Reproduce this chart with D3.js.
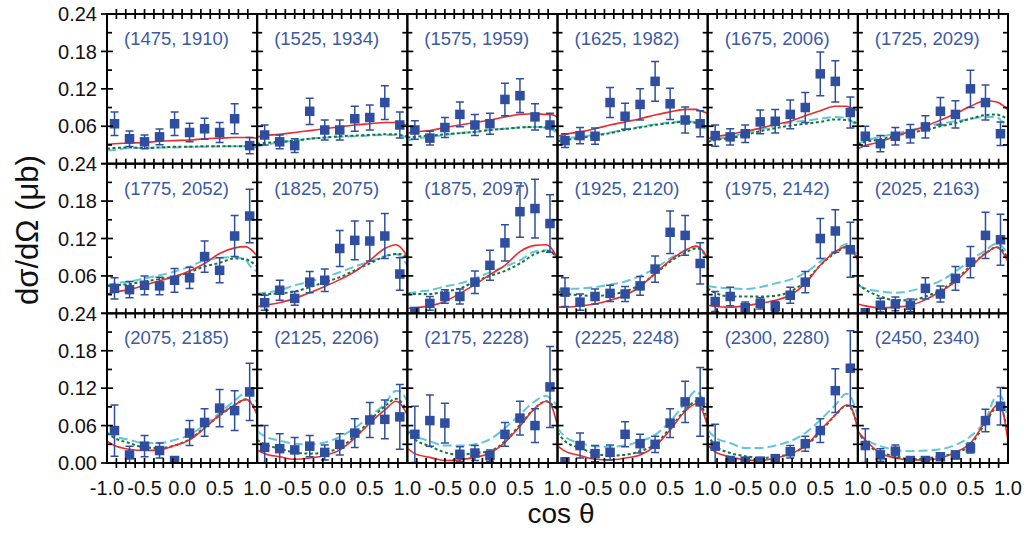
<!DOCTYPE html>
<html><head><meta charset="utf-8">
<script src="https://cdn.jsdelivr.net/npm/d3@7/dist/d3.min.js"></script>
<style>body{margin:0;background:#fff}svg{display:block}</style>
</head><body>
<svg id="c" width="1026" height="536"></svg>
<script>
// ---------- DATA ----------
const panelLabels = ["(1475, 1910)","(1525, 1934)","(1575, 1959)","(1625, 1982)","(1675, 2006)","(1725, 2029)",
  "(1775, 2052)","(1825, 2075)","(1875, 2097)","(1925, 2120)","(1975, 2142)","(2025, 2163)",
  "(2075, 2185)","(2125, 2206)","(2175, 2228)","(2225, 2248)","(2300, 2280)","(2450, 2340)"];

const cosTheta = [-0.9,-0.7,-0.5,-0.3,-0.1,0.1,0.3,0.5,0.7,0.9];

const dsigma = [
  [0.064,0.040,0.035,0.043,0.064,0.050,0.056,0.050,0.072,0.029],
  [0.046,0.035,0.029,0.084,0.054,0.054,0.072,0.074,0.098,0.062],
  [0.054,0.041,0.058,0.079,0.062,0.064,0.103,0.109,0.075,0.062],
  [0.037,0.045,0.044,0.098,0.076,0.095,0.132,0.096,0.070,0.064],
  [0.045,0.043,0.048,0.067,0.068,0.079,0.090,0.144,0.132,0.082],
  [0.044,0.032,0.044,0.048,0.059,0.084,0.079,0.120,0.098,0.048],
  [0.040,0.038,0.045,0.044,0.053,0.057,0.091,0.069,0.124,0.156],
  [0.017,0.037,0.024,0.050,0.053,0.104,0.117,0.116,0.124,0.063],
  [0.003,0.016,0.027,0.027,0.050,0.077,0.113,0.163,0.168,0.144],
  [0.034,0.018,0.027,0.032,0.031,0.044,0.071,0.130,0.125,0.080],
  [0.019,0.027,0.009,0.016,0.011,0.029,0.050,0.120,0.132,0.102],
  [0.001,0.013,0.015,0.013,0.040,0.031,0.056,0.082,0.125,0.118],
  [0.052,0.013,0.027,0.020,0.004,0.048,0.065,0.088,0.084,0.114],
  [0.025,0.023,0.021,0.027,0.017,0.030,0.048,0.069,0.070,0.074],
  [0.046,0.068,0.064,0.014,0.016,0.012,0.046,0.072,0.060,0.122],
  [0.002,0.028,0.015,0.017,0.046,0.031,0.030,0.064,0.098,0.098],
  [0.027,0.004,0.003,0.003,0.007,0.018,0.031,0.052,0.116,0.152],
  [0.028,0.013,0.019,0.004,0.004,0.010,0.013,0.024,0.068,0.091]
];

const dsigmaErr = [
  [0.019,0.0125,0.011,0.0125,0.019,0.015,0.017,0.016,0.024,0.013],
  [0.016,0.011,0.011,0.021,0.016,0.016,0.020,0.020,0.027,0.021],
  [0.015,0.011,0.016,0.020,0.017,0.017,0.026,0.027,0.021,0.019],
  [0.011,0.013,0.013,0.024,0.021,0.025,0.032,0.025,0.021,0.021],
  [0.017,0.013,0.014,0.019,0.019,0.023,0.024,0.035,0.033,0.025],
  [0.016,0.013,0.014,0.015,0.018,0.022,0.022,0.030,0.028,0.019],
  [0.017,0.013,0.015,0.014,0.019,0.017,0.025,0.020,0.033,0.043],
  [0.012,0.016,0.011,0.017,0.018,0.029,0.031,0.032,0.036,0.026],
  [0.006,0.011,0.011,0.012,0.018,0.024,0.029,0.041,0.047,0.046],
  [0.023,0.013,0.012,0.013,0.012,0.015,0.021,0.034,0.032,0.033],
  [0.016,0.015,0.009,0.009,0.008,0.013,0.017,0.032,0.034,0.044],
  [0.005,0.011,0.011,0.010,0.017,0.013,0.019,0.025,0.037,0.041],
  [0.041,0.014,0.017,0.012,0.004,0.020,0.022,0.030,0.032,0.046],
  [0.035,0.024,0.020,0.017,0.012,0.017,0.023,0.028,0.031,0.052],
  [0.045,0.041,0.032,0.012,0.012,0.009,0.019,0.027,0.027,0.065],
  [0.004,0.020,0.013,0.012,0.020,0.015,0.013,0.023,0.033,0.055],
  [0.035,0.004,0.003,0.003,0.004,0.010,0.012,0.019,0.035,0.060],
  [0.027,0.010,0.010,0.003,0.003,0.004,0.006,0.008,0.018,0.030]
];

const curveCos = [-1,-0.9,-0.7,-0.5,-0.3,-0.1,0.1,0.3,0.5,0.7,0.85,0.9,1.0];

const solidRed = [
  [0.031,0.032,0.033,0.034,0.036,0.037,0.038,0.040,0.041,0.042,0.042,0.042,0.041],
  [0.043,0.045,0.047,0.050,0.053,0.056,0.059,0.062,0.064,0.066,0.066,0.065,0.061],
  [0.049,0.051,0.053,0.058,0.062,0.066,0.070,0.075,0.079,0.080,0.079,0.079,0.075],
  [0.044,0.047,0.051,0.056,0.062,0.067,0.072,0.078,0.083,0.087,0.087,0.085,0.081],
  [0.040,0.043,0.047,0.052,0.057,0.063,0.068,0.077,0.085,0.092,0.092,0.090,0.085],
  [0.024,0.029,0.035,0.044,0.052,0.060,0.070,0.080,0.092,0.101,0.099,0.096,0.086],
  [0.031,0.034,0.038,0.045,0.052,0.059,0.068,0.080,0.096,0.105,0.107,0.104,0.092],
  [0.011,0.013,0.017,0.024,0.033,0.043,0.054,0.067,0.085,0.104,0.110,0.107,0.091],
  [0.008,0.009,0.012,0.019,0.032,0.046,0.062,0.077,0.099,0.109,0.110,0.107,0.088],
  [0.010,0.010,0.012,0.015,0.021,0.029,0.043,0.064,0.085,0.101,0.108,0.105,0.088],
  [0.013,0.011,0.010,0.012,0.016,0.021,0.029,0.048,0.077,0.099,0.107,0.104,0.085],
  [0.015,0.012,0.009,0.010,0.013,0.022,0.035,0.051,0.074,0.096,0.106,0.102,0.083],
  [0.035,0.028,0.022,0.020,0.021,0.028,0.037,0.056,0.077,0.093,0.102,0.099,0.077],
  [0.021,0.015,0.010,0.006,0.008,0.012,0.021,0.040,0.064,0.085,0.099,0.096,0.077],
  [0.024,0.015,0.009,0.004,0.005,0.009,0.016,0.033,0.059,0.088,0.099,0.096,0.060],
  [0.028,0.019,0.012,0.006,0.005,0.008,0.013,0.027,0.053,0.083,0.095,0.091,0.059],
  [0.029,0.018,0.010,0.005,0.004,0.008,0.015,0.027,0.053,0.077,0.093,0.091,0.053],
  [0.051,0.037,0.016,0.008,0.005,0.005,0.008,0.017,0.032,0.067,0.092,0.091,0.035]
];

const dottedGreen = [
  [0.024,0.025,0.026,0.025,0.026,0.027,0.027,0.028,0.028,0.028,0.028,0.028,0.027],
  [0.032,0.033,0.035,0.037,0.040,0.042,0.044,0.045,0.046,0.047,0.047,0.046,0.044],
  [0.042,0.043,0.045,0.047,0.049,0.051,0.054,0.056,0.058,0.059,0.058,0.057,0.053],
  [0.036,0.038,0.041,0.045,0.049,0.054,0.058,0.062,0.065,0.067,0.065,0.063,0.059],
  [0.035,0.038,0.041,0.046,0.052,0.057,0.061,0.064,0.067,0.071,0.070,0.069,0.064],
  [0.031,0.035,0.039,0.045,0.050,0.054,0.060,0.065,0.072,0.078,0.079,0.077,0.072],
  [0.044,0.045,0.047,0.051,0.055,0.059,0.066,0.075,0.081,0.088,0.087,0.084,0.075],
  [0.031,0.031,0.032,0.035,0.042,0.050,0.058,0.069,0.080,0.091,0.095,0.095,0.090],
  [0.032,0.031,0.031,0.035,0.040,0.051,0.060,0.068,0.080,0.095,0.100,0.099,0.088],
  [0.035,0.032,0.029,0.028,0.030,0.035,0.046,0.063,0.083,0.097,0.104,0.103,0.088],
  [0.040,0.033,0.027,0.027,0.027,0.028,0.035,0.051,0.077,0.097,0.106,0.104,0.088],
  [0.047,0.038,0.027,0.021,0.021,0.027,0.037,0.053,0.076,0.096,0.106,0.104,0.088],
  [0.048,0.040,0.032,0.025,0.024,0.028,0.038,0.057,0.076,0.093,0.102,0.099,0.083],
  [0.037,0.030,0.023,0.017,0.015,0.017,0.025,0.043,0.068,0.091,0.103,0.100,0.083],
  [0.051,0.038,0.027,0.017,0.013,0.016,0.019,0.035,0.061,0.088,0.099,0.096,0.085],
  [0.049,0.035,0.024,0.015,0.012,0.013,0.019,0.030,0.056,0.085,0.099,0.095,0.067],
  [0.045,0.028,0.016,0.011,0.008,0.010,0.015,0.027,0.049,0.077,0.092,0.089,0.059],
  [0.051,0.033,0.017,0.011,0.006,0.007,0.011,0.016,0.029,0.064,0.088,0.088,0.043]
];

const dashedCyan = [
  [0.021,0.022,0.025,0.025,0.026,0.026,0.027,0.027,0.028,0.028,0.028,0.027,0.026],
  [0.028,0.030,0.034,0.037,0.040,0.042,0.043,0.044,0.045,0.046,0.046,0.045,0.042],
  [0.037,0.040,0.043,0.046,0.049,0.051,0.054,0.056,0.058,0.059,0.058,0.056,0.050],
  [0.040,0.041,0.043,0.046,0.050,0.055,0.059,0.063,0.066,0.068,0.066,0.062,0.055],
  [0.035,0.039,0.043,0.049,0.055,0.061,0.066,0.069,0.072,0.075,0.073,0.070,0.056],
  [0.032,0.037,0.043,0.048,0.054,0.059,0.064,0.068,0.072,0.075,0.075,0.070,0.059],
  [0.045,0.048,0.051,0.056,0.061,0.067,0.075,0.085,0.089,0.090,0.085,0.077,0.067],
  [0.031,0.033,0.037,0.045,0.051,0.058,0.066,0.075,0.083,0.092,0.095,0.092,0.077],
  [0.032,0.034,0.037,0.043,0.048,0.056,0.066,0.075,0.085,0.099,0.101,0.100,0.088],
  [0.038,0.039,0.040,0.042,0.046,0.051,0.060,0.072,0.088,0.101,0.107,0.102,0.088],
  [0.044,0.042,0.040,0.039,0.042,0.048,0.054,0.065,0.083,0.100,0.111,0.107,0.091],
  [0.045,0.040,0.035,0.033,0.036,0.043,0.052,0.067,0.085,0.101,0.112,0.109,0.096],
  [0.049,0.043,0.037,0.032,0.032,0.037,0.045,0.061,0.080,0.100,0.112,0.112,0.096],
  [0.051,0.043,0.036,0.031,0.030,0.033,0.042,0.056,0.075,0.095,0.116,0.115,0.099],
  [0.053,0.044,0.035,0.028,0.028,0.030,0.038,0.056,0.078,0.099,0.108,0.104,0.091],
  [0.056,0.042,0.032,0.027,0.026,0.028,0.035,0.045,0.067,0.096,0.116,0.109,0.091],
  [0.053,0.041,0.032,0.024,0.024,0.028,0.035,0.048,0.069,0.093,0.111,0.107,0.075],
  [0.048,0.038,0.027,0.021,0.019,0.020,0.022,0.029,0.043,0.069,0.107,0.107,0.069]
];

const yTickValues = [0.24, 0.18, 0.12, 0.06];
const yTickLabels = ["0.24", "0.18", "0.12", "0.06"];
const yZeroLabel = "0.00";
const xTickValues = [-1, -0.5, 0, 0.5, 1];
const xTickLabels = ["-1.0", "-0.5", "0.0", "0.5", "1.0"];
const yTitle = "dσ/dΩ (μb)";
const xTitle = "cos θ";

// ---------- LAYOUT ----------
const FONT = "'Liberation Sans', Arial, Helvetica, sans-serif";
const L = 107, T = 14, R = 1008, B = 463, nCol = 6, nRow = 3;
const pw = (R - L) / nCol, ph = (B - T) / nRow;
const x = d3.scaleLinear().domain([-1, 1]).range([0, pw]);
const y = d3.scaleLinear().domain([0, 0.24]).range([ph, 0]);

const COL_PT = "#2f4e9f", COL_LBL = "#3b5aa6";
const COL_RED = "#ee2a2a", COL_GREEN = "#12773a", COL_CYAN = "#62c6da";

const svg = d3.select("#c");
const defs = svg.append("defs");
defs.append("clipPath").attr("id", "pclip").append("rect")
  .attr("x", 0).attr("y", 0).attr("width", pw).attr("height", ph);

const line = d3.line().x(d => x(d[0])).y(d => y(d[1])).curve(d3.curveMonotoneX);

panelLabels.forEach((lab, i) => {
  const col = i % nCol, row = Math.floor(i / nCol);
  const g = svg.append("g").attr("transform", `translate(${L + col * pw},${T + row * ph})`);
  const inner = g.append("g").attr("clip-path", "url(#pclip)");

  const mk = arr => curveCos.map((c, k) => [c, arr[k]]);
  inner.append("path").attr("d", line(mk(dashedCyan[i]))).attr("fill", "none")
    .attr("stroke", COL_CYAN).attr("stroke-width", 2).attr("stroke-dasharray", "9,4");
  inner.append("path").attr("d", line(mk(dottedGreen[i]))).attr("fill", "none")
    .attr("stroke", COL_GREEN).attr("stroke-width", 2).attr("stroke-dasharray", "3,2.5");
  inner.append("path").attr("d", line(mk(solidRed[i]))).attr("fill", "none")
    .attr("stroke", COL_RED).attr("stroke-width", 1.6);

  const pts = cosTheta.map((c, k) => ({c, v: dsigma[i][k], e: dsigmaErr[i][k]}));
  const eb = inner.selectAll("g.eb").data(pts).enter().append("g");
  eb.append("line").attr("x1", d => x(d.c)).attr("x2", d => x(d.c))
    .attr("y1", d => y(d.v - d.e)).attr("y2", d => y(d.v + d.e))
    .attr("stroke", COL_PT).attr("stroke-width", 1.5);
  [-1, 1].forEach(s => {
    eb.append("line").attr("x1", d => x(d.c) - 4).attr("x2", d => x(d.c) + 4)
      .attr("y1", d => y(d.v + s * d.e)).attr("y2", d => y(d.v + s * d.e))
      .attr("stroke", COL_PT).attr("stroke-width", 1.5);
  });
  eb.append("rect").attr("x", d => x(d.c) - 4.75).attr("y", d => y(d.v) - 4.75)
    .attr("width", 9.5).attr("height", 9.5).attr("fill", COL_PT);

  // label
  g.append("text").attr("x", 17).attr("y", 31).text(lab)
    .attr("font-family", FONT).attr("font-size", 18.5).attr("fill", COL_LBL);

  // ticks
  const tk = g.append("g").attr("stroke", "#000").attr("stroke-width", 1.7);
  d3.range(0.03, 0.24, 0.03).forEach(v => {
    const major = Math.abs(v / 0.06 - Math.round(v / 0.06)) < 1e-6;
    const len = major ? 6 : 5;
    tk.append("line").attr("x1", 0).attr("x2", len).attr("y1", y(v)).attr("y2", y(v));
    tk.append("line").attr("x1", pw).attr("x2", pw - len).attr("y1", y(v)).attr("y2", y(v));
    if (col === 0 && major) tk.append("line").attr("x1", 0).attr("x2", -6).attr("y1", y(v)).attr("y2", y(v));
  });
  d3.range(-0.875, 1, 0.125).forEach(c => {
    const len = 5;
    tk.append("line").attr("x1", x(c)).attr("x2", x(c)).attr("y1", 0).attr("y2", len);
    tk.append("line").attr("x1", x(c)).attr("x2", x(c)).attr("y1", ph).attr("y2", ph - len);
    if (row === 0) tk.append("line").attr("x1", x(c)).attr("x2", x(c)).attr("y1", 0).attr("y2", -5);
    if (row === nRow - 1) tk.append("line").attr("x1", x(c)).attr("x2", x(c)).attr("y1", ph).attr("y2", ph + 5);
  });
  if (col === 0) {
    [0, 0.24].forEach(v => tk.append("line").attr("x1", 0).attr("x2", -6).attr("y1", y(v)).attr("y2", y(v)));
  }

  g.append("rect").attr("x", 0).attr("y", 0).attr("width", pw).attr("height", ph)
    .attr("fill", "none").attr("stroke", "#000").attr("stroke-width", 2);

  // y tick labels
  if (col === 0) {
    yTickValues.forEach((v, k) => {
      g.append("text").attr("x", -10).attr("y", y(v)).attr("dy", "0.36em")
        .attr("text-anchor", "end").text(yTickLabels[k])
        .attr("font-family", FONT).attr("font-size", 20).attr("fill", "#111");
    });
    if (row === nRow - 1) {
      g.append("text").attr("x", -10).attr("y", y(0)).attr("dy", "0.36em")
        .attr("text-anchor", "end").text(yZeroLabel)
        .attr("font-family", FONT).attr("font-size", 20).attr("fill", "#111");
    }
  }
  // x tick labels
  if (row === nRow - 1) {
    xTickValues.forEach((c, k) => {
      if (col > 0 && k === 0) return;
      g.append("text").attr("x", x(c)).attr("y", ph + 32).attr("text-anchor", "middle")
        .text(xTickLabels[k]).attr("font-family", FONT).attr("font-size", 20).attr("fill", "#111");
    });
  }
});

svg.append("text").attr("transform", "translate(38,230) rotate(-90)")
  .attr("text-anchor", "middle").text(yTitle)
  .attr("font-family", FONT).attr("font-size", 31).attr("fill", "#111");
svg.append("text").attr("x", 561).attr("y", 523).attr("text-anchor", "middle").text(xTitle)
  .attr("font-family", FONT).attr("font-size", 28).attr("fill", "#111");
</script>
</body></html>
